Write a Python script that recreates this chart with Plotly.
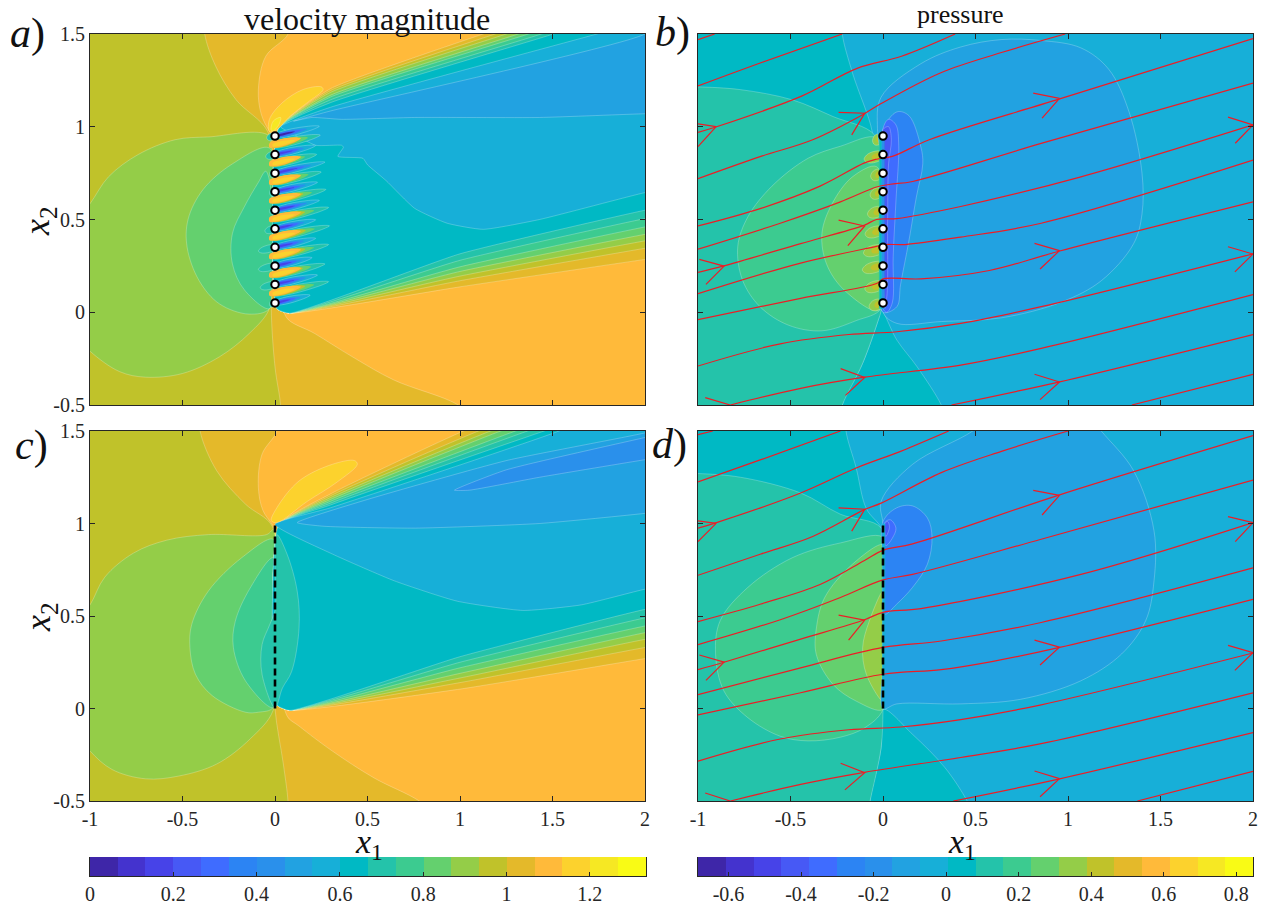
import plotly.graph_objects as go

# ---------- colour levels (20 discrete contour bands) ----------
LEVEL_COLORS = ["#3e26a8","#4433ce","#4743e8","#4759f5","#3f6cff","#2c84f3","#2a90eb","#22a2e1",
                "#17afd8","#00b9c4","#24c3aa","#3ccb90","#64d06e","#94cd48","#c0c22a","#e4b92a",
                "#ffba3a","#fcd22d","#f6e823","#f9fb15"]
CB_V_EDGES = [0,.067,.133,.2,.267,.334,.4,.467,.534,.6,.667,.734,.801,.867,.934,1.001,1.068,1.134,1.201,1.268,1.335]
CB_P_EDGES = [-.684,-.6075,-.531,-.4545,-.378,-.3015,-.225,-.1485,-.072,.0045,.081,.1575,.234,.3105,.387,.4635,.54,.6165,.693,.7695,.846]
CB_V_TICKS = [0,.2,.4,.6,.8,1,1.2]
CB_V_LABELS = ["0","0.2","0.4","0.6","0.8","1","1.2"]
CB_P_TICKS = [-.6,-.4,-.2,0,.2,.4,.6,.8]
CB_P_LABELS = ["-0.6","-0.4","-0.2","0","0.2","0.4","0.6","0.8"]
X_TICKS = [-1,-.5,0,.5,1,1.5,2]
X_LABELS = ["-1","-0.5","0","0.5","1","1.5","2"]
Y_TICKS = [-.5,0,.5,1,1.5]
Y_LABELS = ["-0.5","0","0.5","1","1.5"]
HOLE_X = [0]*10
HOLE_Y = [.95,.85,.75,.65,.55,.45,.35,.25,.15,.05]
BAND_Y = [.9,.8,.7,.6,.5,.4,.3,.2,.1]
BAND_TEAL_LEN = [.25,.23,.255,.28,.295,.30,.295,.275,.295]
JET_LEN = [.24,.22,.27,.23,.24,.22,.22,.20,.23,.19]
JET_LEFT_LEN = [.045,.05,.03,.03,.03,.055,.09,.09,.08,.03]
BLOB_LEN = [.045,.09,.055,.058,.072,.085,.094,.10,.086,.063]
BLOB_Y = [.935,.845,.745,.645,.545,.44,.34,.25,.145,.045]

# ---------- panel a: velocity magnitude, perforated ----------
A_LOBE_13 = [(-1.1,.46),(-1,.585),(-.9,.73),(-.74,.85),(-.54,.93),(-.36,.945),(-.03,.95),(-.01,.75),(-.01,.5),(-.01,.25),(-.03,.02),(-.14,-.115),(-.3,-.24),(-.5,-.33),(-.7,-.35),(-.84,-.32),(-1,-.21),(-1.1,-.1)]
A_LOBE_12 = [(-.03,.885),(-.23,.80),(-.39,.66),(-.47,.50),(-.475,.35),(-.41,.17),(-.3,.045),(-.14,-.01),(-.03,.02),(-.01,.25),(-.01,.6)]
A_LOBE_11 = [(-.05,.76),(-.09,.70),(-.165,.57),(-.23,.425),(-.23,.26),(-.165,.12),(-.03,.02),(-.01,.25),(-.01,.55)]
A_GOLD = [(-.38,1.6),(-.38,1.5),(-.32,1.325),(-.21,1.145),(-.04,.975),(-.01,.75),(-.01,.25),(-.02,.02),(0,-.295),(.03,-.5),(.03,-.6),(2.1,-.6),(2.1,1.6)]
A_ORANGE_TOP = [(.07,1.6),(.07,1.5),(-.05,1.38),(-.09,1.2),(-.075,1.07),(-.03,.975),(.1,.8),(2.1,.8),(2.1,1.6)]
A_ORANGE_BOT = [(.06,-.025),(.215,-.115),(.418,-.24),(.642,-.365),(.99,-.5),(1.1,-.6),(2.1,-.6),(2.1,.5),(.06,.1)]
A_YELLOW = [(-.03,.975),(-.03,1.04),(.04,1.13),(.15,1.2),(.25,1.215),(.26,1.2),(.175,1.13),(.085,1.06),(.005,.98)]
A_YELLOW2 = [(-.02,.98),(-.01,1.03),(.03,1.05),(.025,1.02),(-.005,.98)]
A_U_TOP = [1.125,1.19,1.25,1.315,1.37,1.44,1.505]
A_U_MID = [1.205,1.195,1.185,1.17,1.16,1.145,1.13]
A_L_RIGHT = [.285,.345,.385,.42,.46,.505,.55]
A_L_MID = [.137,.17,.195,.22,.245,.28,.315]
A_W8 = [(.03,1.0),(.3,1.105),(1.74,1.5),(2.1,1.6),(2.1,.66),(2,.645),(1.43,.5),(1.125,.447),(.93,.48),(.755,.56),(.6,.71),(.5,.795),(.475,.83),(.34,.84),(.37,.89),(.36,.9),(.22,.9),(.1,.96)]
A_W7 = [(.1,1.03),(.3,1.085),(2,1.5),(2.1,1.6),(2.1,1.07),(2,1.07),(1.43,1.05),(.755,1.05),(.36,1.04),(.2,1.05)]

# ---------- panel c: velocity magnitude, solid ----------
C_LOBE_13 = [(-1.1,.43),(-1,.56),(-.92,.71),(-.765,.84),(-.585,.91),(-.36,.94),(-.045,.94),(-.005,.97),(0,.75),(0,.5),(0,.25),(-.01,-.01),(-.135,-.165),(-.315,-.3),(-.52,-.365),(-.7,-.38),(-.88,-.33),(-1,-.23),(-1.1,-.1)]
C_LOBE_12 = [(-.01,.915),(-.18,.815),(-.36,.635),(-.45,.455),(-.46,.33),(-.43,.185),(-.34,.07),(-.16,-.02),(-.09,-.02),(-.01,.005),(0,.25),(0,.5),(0,.75)]
C_LOBE_11 = [(-.01,.815),(-.135,.65),(-.215,.47),(-.225,.33),(-.16,.15),(-.01,.005),(0,.25),(0,.55)]
C_LOBE_10 = [(0,.53),(-.03,.45),(-.07,.345),(-.07,.185),(0,.005),(.04,.11),(.09,.2),(.13,.435),(.12,.635),(.065,.835),(.01,.94),(0,.8)]
C_GOLD = [(-.405,1.6),(-.405,1.5),(-.315,1.285),(-.16,1.105),(-.015,.985),(0,.75),(0,.25),(0,0),(.045,-.3),(.07,-.5),(.07,-.6),(2.1,-.6),(2.1,1.6)]
C_ORANGE_TOP = [(.01,1.6),(.01,1.5),(-.07,1.375),(-.09,1.195),(-.065,1.07),(-.015,.995),(.1,.8),(2.1,.8),(2.1,1.6)]
C_ORANGE_BOT = [(.065,-.04),(.13,-.095),(.31,-.23),(.535,-.375),(.78,-.5),(.9,-.6),(2.1,-.6),(2.1,.5),(.065,.1)]
C_YELLOW = [(-.02,1.015),(.01,1.085),(.13,1.23),(.31,1.32),(.43,1.34),(.445,1.32),(.33,1.22),(.175,1.12),(.01,1.005)]
C_U_TOP = [1.02,1.1,1.165,1.22,1.3,1.365,1.455]
C_U_MID = [1.16,1.15,1.14,1.13,1.12,1.11,1.10]
C_L_RIGHT = [.27,.33,.374,.41,.446,.49,.536]
C_L_MID = [.105,.14,.165,.19,.22,.25,.28]
C_W8 = [(0,.995),(.3,1.085),(1.535,1.5),(1.75,1.6),(2.1,1.6),(2.1,.66),(2,.645),(1.655,.56),(1.34,.53),(.985,.58),(.645,.69),(.31,.835)]
C_W7 = [(.12,1.005),(.5,1.13),(1.25,1.34),(2,1.49),(2.1,1.52),(2.1,1.07),(2,1.055),(1.43,1.0),(.76,.975),(.265,.985)]
C_W6 = [(.97,1.18),(1.25,1.29),(2,1.465),(2.1,1.49),(2.1,1.36),(2,1.345),(1.43,1.25),(1.05,1.18)]

# ---------- panel b: pressure, perforated ----------
B_TEAL_TOP = [(-1.1,1.6),(-.22,1.6),(-.22,1.5),(-.165,1.29),(-.06,.98),(-.06,.9),(-1.1,.9)]
B_TEAL_BOT = [(-.22,-.6),(-.22,-.5),(-.11,-.275),(-.025,-.04),(-.01,.01),(.075,-.15),(.185,-.295),(.315,-.5),(.35,-.6)]
B_LOBE_10 = [(-1.1,1.215),(-1,1.215),(-.77,1.2),(-.49,1.145),(-.27,1.055),(-.045,.955),(0,.75),(0,.25),(-.01,.01),(-.025,-.04),(-.11,-.275),(-.22,-.5),(-.25,-.6),(-1.1,-.6)]
B_LOBE_11 = [(-.035,.94),(-.23,.895),(-.405,.83),(-.6,.68),(-.73,.515),(-.785,.355),(-.76,.175),(-.665,.03),(-.51,-.07),(-.33,-.1),(-.145,-.045),(-.01,.02),(0,.25),(0,.75)]
B_LOBE_12 = [(-.035,.785),(-.165,.73),(-.275,.585),(-.33,.425),(-.305,.26),(-.21,.12),(-.025,.01),(0,.25),(0,.6)]
B_BLUE_7 = [(-.03,.99),(-.01,1.16),(.205,1.34),(.42,1.43),(.64,1.47),(.855,1.465),(1.07,1.425),(1.22,1.31),(1.33,1.08),(1.4,.75),(1.4,.53),(1.355,.37),(1.18,.17),(.965,.055),(.64,-.03),(.315,-.05),(.075,-.06),(0,0),(0,.25),(0,.5),(0,.75)]
B_BLUE_6 = [(0,.98),(.075,1.08),(.14,1.06),(.205,.89),(.215,.8),(.18,.62),(.14,.385),(.095,.15),(.075,.03),(0,0),(0,.25),(0,.5),(0,.75)]
B_BLUE_5 = [(0,.99),(.03,1.04),(.07,1.01),(.085,.9),(.07,.6),(.055,.3),(.05,.05),(.02,0),(0,.02),(0,.25),(0,.5),(0,.75)]
B_BLUE_4 = [(0,.985),(.03,1.0),(.045,.93),(.03,.8),(.025,.5),(.022,.1),(.01,.02),(0,.25),(0,.5),(0,.75)]
B_STRIP_X = [-.022,-.015,-.01,-.005]
B_STRIP_LEVEL = [10,9,8,6]

# ---------- panel d: pressure, solid ----------
D_TEAL_TOP = [(-1.1,1.6),(-.2,1.6),(-.2,1.5),(-.145,1.3),(-.09,1.08),(-.01,.975),(-.01,.9),(-1.1,.9)]
D_TEAL_BOT = [(-.07,-.6),(-.07,-.5),(-.01,-.21),(0,-.005),(.16,-.14),(.335,-.32),(.455,-.5),(.5,-.6)]
D_LOBE_10 = [(-1.1,1.27),(-1,1.27),(-.77,1.25),(-.445,1.165),(-.23,1.05),(-.01,.975),(0,.75),(0,.25),(0,-.005),(-.01,-.21),(-.07,-.5),(-.09,-.6),(-1.1,-.6)]
D_LOBE_11 = [(0,.925),(-.23,.895),(-.49,.815),(-.73,.655),(-.88,.475),(-.905,.295),(-.86,.095),(-.73,-.05),(-.555,-.15),(-.405,-.175),(-.23,-.155),(-.1,-.105),(0,-.005),(0,.25),(0,.5),(0,.75)]
D_LOBE_12 = [(0,.885),(-.165,.78),(-.315,.6),(-.36,.435),(-.36,.29),(-.27,.13),(-.145,.04),(0,-.005),(0,.25),(0,.5),(0,.75)]
D_LOBE_13 = [(0,.635),(-.075,.47),(-.11,.33),(-.09,.185),(0,.04),(0,.2),(0,.35),(0,.5)]
D_BLUE_7 = [(0,.995),(-.01,1.12),(.16,1.32),(.485,1.5),(.6,1.6),(1.1,1.6),(1.18,1.5),(1.355,1.285),(1.465,.96),(1.465,.69),(1.42,.475),(1.29,.295),(1.07,.15),(.745,.05),(.42,.025),(.075,.025),(0,0),(0,.25),(0,.5),(0,.75)]
D_BLUE_6 = [(0,1.01),(.075,1.085),(.16,1.095),(.24,1.03),(.265,.925),(.24,.78),(.16,.655),(.075,.565),(.01,.51),(0,.6),(0,.8)]
D_BLUE_5 = [(.01,1.005),(.04,1.02),(.07,.975),(.05,.92),(.015,.88)]
D_BLUE_4 = [(.01,1.0),(.025,1.01),(.035,.98),(.015,.93)]
D_STRIP = [(-.004,1.0),(.012,1.0),(.012,0),(-.004,0)]

# ---------- streamlines ----------
B_STREAMS = [
 [(-1,1.47),(-.91,1.5)],
 [(-1,1.22),(-.66,1.345),(-.22,1.5)],
 [(-1,.97),(-.9,1.0),(-.44,1.165),(-.14,1.315),(.1,1.38),(.39,1.5)],
 [(-1,.72),(-.66,.84),(-.38,.93),(-.11,1.065),(-.01,1.125),(.31,1.29),(.64,1.4),(.985,1.5)],
 [(-1,.465),(-.66,.56),(-.34,.68),(-.1,.805),(-.035,.825),(.05,.84),(.25,.93),(.955,1.15),(2,1.475)],
 [(-1,.34),(-.555,.48),(-.23,.595),(-.035,.675),(.04,.69),(.16,.705),(.855,.91),(2,1.235)],
 [(-1,.215),(-.86,.25),(-.445,.37),(-.1,.47),(-.035,.5),(.075,.505),(.42,.57),(1.07,.73),(2,1.01)],
 [(-1,.1),(-.445,.265),(-.035,.355),(.01,.365),(.12,.365),(.42,.405),(.855,.48),(2,.82)],
 [(-1,-.04),(-.445,.075),(-.035,.155),(0,.18),(.205,.18),(.575,.225),(.955,.33),(2,.595)],
 [(-1,-.29),(-.555,-.17),(-.185,-.12),(.075,-.105),(.42,-.06),(.855,.03),(2,.315)],
 [(-.825,-.5),(-.445,-.41),(-.1,-.35),(.42,-.285),(.855,-.195),(2,.095)],
 [(.37,-.5),(.955,-.375),(2,-.12)],
 [(1.345,-.5),(2,-.335)],
]
D_STREAMS = [
 [(-1,1.48),(-.92,1.5)],
 [(-1,1.225),(-.66,1.345),(-.23,1.5)],
 [(-1,.975),(-.9,1.005),(-.445,1.165),(-.145,1.3),(.095,1.39),(.355,1.5)],
 [(-1,.72),(-.66,.835),(-.38,.93),(-.1,1.075),(-.01,1.11),(.315,1.275),(.64,1.39),(1,1.5)],
 [(-1,.47),(-.66,.565),(-.34,.67),(-.1,.8),(0,.855),(.16,.89),(.955,1.155),(2,1.475)],
 [(-1,.345),(-.555,.48),(-.23,.6),(0,.695),(.16,.725),(.855,.915),(2,1.235)],
 [(-1,.21),(-.86,.25),(-.445,.375),(-.1,.48),(0,.52),(.205,.54),(1.07,.725),(2,1.005)],
 [(-1,.075),(-.445,.22),(0,.33),(.315,.365),(.855,.465),(2,.76)],
 [(-1,-.035),(-.445,.085),(0,.185),(.315,.21),(.595,.255),(.955,.33),(2,.59)],
 [(-1,-.285),(-.555,-.165),(-.185,-.115),(.095,-.1),(.42,-.06),(.855,.02),(2,.3)],
 [(-.825,-.5),(-.445,-.41),(-.1,-.345),(.42,-.265),(.855,-.19),(2,.085)],
 [(.38,-.5),(.955,-.38),(2,-.13)],
 [(1.375,-.5),(2,-.34)],
]
B_ARROWS = [
 [(-1,1.016),(-.902,1.001),(-1,.893)],
 [(-.24,1.077),(-.099,1.073),(-.169,.956)],
 [(.812,1.181),(.954,1.153),(.86,1.046)],
 [(1.865,1.052),(2,1.01),(1.904,.911)],
 [(-.24,.497),(-.099,.465),(-.19,.359)],
 [(-.993,.285),(-.859,.249),(-.957,.15)],
 [(.819,.371),(.954,.332),(.849,.233)],
 [(1.865,.353),(2,.314),(1.902,.218)],
 [(-.229,-.304),(-.099,-.352),(-.203,-.448)],
 [(.819,-.334),(.954,-.376),(.849,-.471)],
 [(-.961,-.46),(-.826,-.5)],
]
D_ARROWS = [
 [(-1,1.014),(-.902,1.001),(-1,.902)],
 [(-.24,1.084),(-.099,1.077),(-.169,.959)],
 [(.812,1.179),(.954,1.152),(.86,1.046)],
 [(1.865,1.037),(2,1.005),(1.904,.902)],
 [(-.24,.505),(-.099,.478),(-.186,.37)],
 [(-.993,.289),(-.859,.251),(-.957,.152)],
 [(.819,.37),(.954,.332),(.849,.235)],
 [(1.865,.341),(2,.302),(1.902,.206)],
 [(-.229,-.296),(-.099,-.347),(-.206,-.44)],
 [(.819,-.338),(.954,-.379),(.849,-.477)],
 [(-.961,-.457),(-.826,-.5)],
]
LENS_U = [0,.15,.4,.7,.9,1]
LENS_W = [.55,.9,1,.75,.4,0]
BLOB_U = [0,.3,.6,.85,1]
BLOB_W = [.75,1,.95,.65,0]
TILT = .22

FONT = "Liberation Serif"
INK = "#262626"
fig = go.Figure()

def poly(ax, pts, level, edge=True, smooth=True, smoothing=1.0):
    xs = [p[0] for p in pts] + [pts[0][0]]
    ys = [p[1] for p in pts] + [pts[0][1]]
    line = dict(color="rgba(255,255,255,.34)" if edge else LEVEL_COLORS[level], width=.7 if edge else 0)
    if smooth:
        line.update(shape="spline", smoothing=smoothing)
    fig.add_trace(go.Scatter(x=xs, y=ys, xaxis="x"+ax, yaxis="y"+ax, mode="lines", fill="toself",
                             fillcolor=LEVEL_COLORS[level], line=line, hoverinfo="skip", showlegend=False))

def rect_all(ax, level):
    poly(ax, [(-1.1,-.6),(2.1,-.6),(2.1,1.6),(-1.1,1.6)], level, edge=False, smooth=False)

def lens(ax, x0, y0, length, half, level, edge=False, sign=1, us=LENS_U, ws=LENS_W):
    top = [(x0+sign*length*u, y0+TILT*length*u*sign+half*w) for u, w in zip(us, ws)]
    bot = [(x0+sign*length*u, y0+TILT*length*u*sign-half*w) for u, w in zip(us, ws)]
    poly(ax, top + bot[::-1][1:], level, edge=edge)

def wake(ax, u_top, u_mid, l_right, l_mid, start_low):
    for k in range(7):
        pts = [(.02,.99),(.3,u_mid[k]),(u_top[k],1.5),(u_top[k]+.3,1.6),(2.1,1.6),(2.1,l_right[k]+.015),
               (2,l_right[k]),(1,l_mid[k]),(.08,start_low),(.01,.02)]
        poly(ax, pts, 15-k, smoothing=.45)

def stream(ax, streams, arrows):
    for s in streams:
        fig.add_trace(go.Scatter(x=[p[0] for p in s], y=[p[1] for p in s], xaxis="x"+ax, yaxis="y"+ax,
                                 mode="lines", line=dict(color="#ee1c25", width=1.2, shape="spline", smoothing=1.0),
                                 hoverinfo="skip", showlegend=False))
    for s in arrows:
        fig.add_trace(go.Scatter(x=[p[0] for p in s], y=[p[1] for p in s], xaxis="x"+ax, yaxis="y"+ax,
                                 mode="lines", line=dict(color="#ee1c25", width=1.2),
                                 hoverinfo="skip", showlegend=False))

def holes(ax):
    fig.add_trace(go.Scatter(x=HOLE_X, y=HOLE_Y, xaxis="x"+ax, yaxis="y"+ax, mode="markers",
                             marker=dict(size=7.5, color="white", line=dict(color="black", width=2)),
                             hoverinfo="skip", showlegend=False))

def plate(ax):
    fig.add_trace(go.Scatter(x=[0,0], y=[0,1], xaxis="x"+ax, yaxis="y"+ax, mode="lines",
                             line=dict(color="black", width=2.6, dash="7px,4px"),
                             hoverinfo="skip", showlegend=False))

# panel a
rect_all("", 14)
poly("", A_LOBE_13, 13); poly("", A_LOBE_12, 12); poly("", A_LOBE_11, 11)
poly("", A_GOLD, 15); poly("", A_ORANGE_TOP, 16); poly("", A_ORANGE_BOT, 16)
wake("", A_U_TOP, A_U_MID, A_L_RIGHT, A_L_MID, -.005)
poly("", A_W8, 8, smoothing=.5); poly("", A_W7, 7, smoothing=.5)
poly("", A_YELLOW, 17); poly("", A_YELLOW2, 18)
for y, l in zip(HOLE_Y, JET_LEFT_LEN):
    lens("", 0, y, l, .02, 10, edge=True, sign=-1, us=BLOB_U, ws=BLOB_W)
for y, l in zip(BAND_Y, BAND_TEAL_LEN):
    lens("", -.005, y, l, .022, 10, edge=True)
    lens("", -.01, y, l*.75, .021, 12)
    lens("", -.02, y, l*.62, .022, 14)
    lens("", -.03, y, .17, .021, 16)
    lens("", -.012, y, .12, .012, 17)
for i, (y, l) in enumerate(zip(HOLE_Y, JET_LEN)):
    lens("", 0, y, l, .019, 8, edge=True)
    lens("", 0, y, l*.72, .015, 6)
    lens("", 0, y, l*.58, .011, 4)
    lens("", 0, y, l*.45, .006, 0 if i == 0 else 2)
holes("")

# panel b
rect_all("2", 8)
poly("2", B_TEAL_TOP, 9); poly("2", B_TEAL_BOT, 9)
poly("2", B_LOBE_10, 10); poly("2", B_LOBE_11, 11); poly("2", B_LOBE_12, 12)
for y, l in zip(BLOB_Y, BLOB_LEN):
    lens("2", -.012, y, l, .03, 13, edge=True, sign=-1, us=BLOB_U, ws=BLOB_W)
    lens("2", -.012, y, l*.55, .018, 14, sign=-1, us=BLOB_U, ws=BLOB_W)
poly("2", B_BLUE_7, 7); poly("2", B_BLUE_6, 5); poly("2", B_BLUE_5, 4); poly("2", B_BLUE_4, 3)
for sx, lv in zip(B_STRIP_X, B_STRIP_LEVEL):
    poly("2", [(sx,.97),(.006,.97),(.006,.02),(sx,.02)], lv, edge=False, smooth=False)
for y in HOLE_Y:
    lens("2", -.008, y-.002, .03, .02, 2, us=BLOB_U, ws=BLOB_W)
stream("2", B_STREAMS, B_ARROWS)
holes("2")

# panel c
rect_all("3", 14)
poly("3", C_LOBE_13, 13); poly("3", C_LOBE_12, 12); poly("3", C_LOBE_11, 11)
poly("3", C_GOLD, 15); poly("3", C_ORANGE_TOP, 16); poly("3", C_ORANGE_BOT, 16)
wake("3", C_U_TOP, C_U_MID, C_L_RIGHT, C_L_MID, -.01)
poly("3", C_W8, 8, smoothing=.5); poly("3", C_W7, 7, smoothing=.5); poly("3", C_W6, 6, smoothing=.5)
poly("3", C_LOBE_10, 10)
poly("3", C_YELLOW, 17)
plate("3")

# panel d
rect_all("4", 8)
poly("4", D_TEAL_TOP, 9); poly("4", D_TEAL_BOT, 9)
poly("4", D_LOBE_10, 10); poly("4", D_LOBE_11, 11); poly("4", D_LOBE_12, 12); poly("4", D_LOBE_13, 13)
poly("4", D_BLUE_7, 7); poly("4", D_BLUE_6, 5); poly("4", D_BLUE_5, 4); poly("4", D_BLUE_4, 3)
poly("4", D_STRIP, 8, edge=False, smooth=False)
stream("4", D_STREAMS, D_ARROWS)
plate("4")

# colour bars
CSCALE = [[i/19, c] for i, c in enumerate(LEVEL_COLORS)]
for ax, edges in (("5", CB_V_EDGES), ("6", CB_P_EDGES)):
    fig.add_trace(go.Heatmap(z=[list(range(20))], x=edges, y=[0,1], xaxis="x"+ax, yaxis="y"+ax,
                             colorscale=CSCALE, zmin=0, zmax=19, showscale=False, hoverinfo="skip"))

W, H = 1270, 909
def dx(a, b): return [a/W, b/W]
def dy(top, bot): return [1-bot/H, 1-top/H]
common = dict(showgrid=False, zeroline=False, showline=True, linecolor=INK, linewidth=1, mirror="ticks",
              ticks="inside", ticklen=5, tickcolor=INK, tickwidth=1, automargin=False,
              tickfont=dict(family=FONT, size=20, color=INK))
def xax(dom, anchor, labels):
    return dict(common, domain=dom, anchor=anchor, range=[-1,2], tickmode="array", tickvals=X_TICKS,
                ticktext=X_LABELS if labels else [""]*7)
def yax(dom, anchor, labels):
    return dict(common, domain=dom, anchor=anchor, range=[-.5,1.5], tickmode="array", tickvals=Y_TICKS,
                ticktext=Y_LABELS if labels else [""]*5)
LEFT, RIGHT = dx(90,645), dx(698,1253)
TOP, BOT = dy(34,405), dy(431,801)
CBY = dy(857,876)
cb = dict(common, mirror=False, ticklen=4)
cby = dict(domain=CBY, range=[0,1], showticklabels=False, ticks="", showgrid=False, automargin=False,
           zeroline=False, showline=True, linecolor=INK, mirror=True)
fig.update_layout(
    width=W, height=H, margin=dict(l=0, r=0, t=0, b=0), paper_bgcolor="white", plot_bgcolor="white",
    xaxis=xax(LEFT,"y",False), yaxis=yax(TOP,"x",True),
    xaxis2=xax(RIGHT,"y2",False), yaxis2=yax(TOP,"x2",False),
    xaxis3=xax(LEFT,"y3",True), yaxis3=yax(BOT,"x3",True),
    xaxis4=xax(RIGHT,"y4",True), yaxis4=yax(BOT,"x4",False),
    xaxis5=dict(cb, domain=dx(90,646), anchor="y5", range=[CB_V_EDGES[0],CB_V_EDGES[-1]], tickmode="array",
                tickvals=CB_V_TICKS, ticktext=CB_V_LABELS),
    yaxis5=dict(cby, anchor="x5"),
    xaxis6=dict(cb, domain=dx(698,1253), anchor="y6", range=[CB_P_EDGES[0],CB_P_EDGES[-1]], tickmode="array",
                tickvals=CB_P_TICKS, ticktext=CB_P_LABELS),
    yaxis6=dict(cby, anchor="x6"),
)
def note(text, x, y, size, angle=0):
    fig.add_annotation(text=text, x=x/W, y=1-y/H, xref="paper", yref="paper", showarrow=False,
                       xanchor="center", yanchor="middle", textangle=angle, borderpad=0,
                       font=dict(family=FONT, size=size, color="#111111"))
note("velocity magnitude", 367, 19, 32)
note("pressure", 960, 15, 26)
note("<i>a</i>)", 27, 34, 42)
note("<i>b</i>)", 672, 33, 42)
note("<i>c</i>)", 31, 445, 42)
note("<i>d</i>)", 669, 444, 42)
note("<i>x</i><sub>2</sub>", 40, 221, 36, -90)
note("<i>x</i><sub>2</sub>", 40, 617, 36, -90)
note("<i>x</i><sub>1</sub>", 369, 844, 34)
note("<i>x</i><sub>1</sub>", 962, 844, 34)

fig.write_html("out.html", config={"displayModeBar": False}, post_script="document.body.style.margin='0';")
